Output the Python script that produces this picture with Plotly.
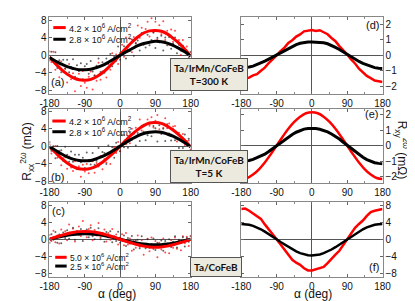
import plotly.graph_objects as go

# ---------------- data ----------------
alpha_dots = list(range(-180, 181, 5))
alpha_fit = list(range(-180, 181, 15))
alpha_r = list(range(-180, 181, 10))

# (a) Ta/IrMn/CoFeB, T=300 K, Rxx 2w (mOhm)
a_red_dots = [0.9, -1.6, 0.8, -3.3, -1.8, -5.0, -1.4, -3.7, -3.0, -6.2, -2.0, -5.5, -4.1, -8.2, -5.3, -4.2,
              -7.0, -3.6, -6.3, -7.4, -4.9, -3.7, -7.8, -4.6, -5.8, -1.7, -5.6, -3.7, -2.1, -5.1, -2.0, -3.3,
              0.5, -1.6, 0.2, -2.0, 0.6, 2.4, -0.3, 4.1, 1.3, 3.8, 0.7, 4.2, 2.7, 6.8, 4.0, 6.3, 2.5, 6.0, 7.7,
              4.3, 8.5, 5.2, 7.7, 3.7, 6.9, 4.8, 7.8, 3.5, 5.6, 2.4, 5.9, 3.1, 5.6, 1.8, 3.5, 0.1, 3.5, 0.9,
              2.0, -1.4, 0.7]
a_blk_dots = [-1.2, 0.8, -1.2, 0.7, -2.9, -1.1, -3.9, -1.0, -3.1, -1.0, -3.9, -2.7, -0.9, -4.9, -2.3, -3.6,
              -1.8, -5.5, -2.5, -2.0, -4.2, -1.3, -3.7, -4.6, -2.4, -0.7, -3.8, -1.6, -4.0, -0.7, -1.8, 0.3,
              -2.5, -0.3, -1.3, 2.0, -1.0, 0.7, 2.1, -0.7, 2.2, 1.0, 3.6, -0.1, 2.8, 3.4, 1.1, 5.1, 2.5, 1.8,
              4.7, 2.3, 3.5, 5.2, 1.7, 4.0, 3.0, 4.5, 1.1, 4.1, 2.3, 4.2, 1.5, 2.7, 4.1, 0.5, 2.4, 1.1, 2.2,
              -1.1, 1.0, -0.6, 0.8]
a_red_fit = [-0.4, -1.9, -3.2, -4.3, -5.1, -5.6, -5.7, -5.5, -4.9, -4.0, -2.8, -1.4, 0.1, 1.6, 3.0, 4.2,
             5.1, 5.6, 5.7, 5.5, 4.9, 3.9, 2.8, 1.4, -0.2]
a_blk_fit = [-0.5, -1.3, -2.0, -2.6, -3.0, -3.3, -3.3, -3.2, -2.8, -2.3, -1.6, -0.8, 0.0, 0.8, 1.5, 2.2,
             2.7, 3.0, 3.2, 3.1, 2.8, 2.3, 1.6, 0.8, -0.2]

# (b) Ta/IrMn/CoFeB, T=5 K
b_red_dots = [0.5, -1.6, -0.5, 0.1, -2.6, -1.0, -4.3, -2.7, -2.5, -5.1, -2.3, -4.8, -5.6, -3.4, -5.2, -4.5,
              -6.9, -4.2, -5.7, -4.0, -6.1, -4.9, -3.4, -6.0, -3.8, -4.6, -2.2, -5.2, -2.9, -3.7, -1.7, -4.0,
              -1.4, -0.2, -1.5, 1.0, -1.1, 0.6, 2.6, 0.5, 2.4, 0.7, 4.0, 2.8, 4.2, 2.6, 6.1, 3.6, 4.9, 3.2,
              6.1, 4.7, 6.6, 4.3, 5.8, 7.1, 3.9, 5.3, 4.2, 6.4, 4.1, 5.2, 2.7, 4.5, 4.6, 1.1, 3.1, 1.6, 2.8,
              0.3, 1.2, 1.3, -0.7]
b_blk_dots = [1.0, -1.0, 0.0, -2.7, 0.1, -1.6, -0.9, -3.3, -0.1, -1.9, -3.5, -1.2, -3.5, -1.9, -5.1, -1.9,
              -3.6, -2.6, -4.9, -1.4, -3.1, -4.1, -1.5, -4.2, -3.3, -0.4, -4.0, -1.3, -1.5, -4.0, 0.2, -1.9,
              -0.2, -2.6, 0.8, 0.0, -1.1, 2.5, -0.2, 1.4, -0.3, 3.1, 1.5, 3.1, 0.2, 3.0, 1.2, 4.7, 3.3, 1.4,
              2.5, 5.1, 2.3, 4.6, 4.1, 1.1, 4.8, 2.8, 4.0, 1.2, 5.0, 2.9, 1.3, 3.9, 1.4, 3.0, -0.4, 2.0,
              -0.4, 2.7, 0.3, 1.7, -0.9]
b_red_fit = [-0.1, -1.4, -2.7, -3.8, -4.6, -5.1, -5.2, -5.0, -4.5, -3.6, -2.5, -1.3, 0.0, 1.4, 2.7, 3.8,
             4.7, 5.3, 5.4, 5.2, 4.6, 3.7, 2.6, 1.3, -0.1]
b_blk_fit = [-0.1, -0.9, -1.7, -2.4, -2.9, -3.2, -3.3, -3.2, -2.8, -2.3, -1.6, -0.8, 0.0, 0.9, 1.7, 2.4,
             2.9, 3.2, 3.3, 3.2, 2.8, 2.3, 1.6, 0.8, -0.1]

# (c) Ta/CoFeB
c_red_dots = [1.0, -0.4, 2.0, -0.7, 0.9, -1.0, 2.3, 0.9, 1.9, -0.2, 3.5, 1.0, 2.5, -0.5, 1.9, 3.0, 0.8,
              4.3, 1.5, 0.5, 2.4, 3.3, -0.2, 2.2, 0.9, 3.8, 0.4, 1.5, 2.3, -0.5, 1.5, -0.1, 2.4, 0.3, 1.1,
              -1.2, 0.4, 1.2, -1.4, 1.5, -1.2, 0.2, -2.7, -0.4, -2.0, 0.9, -1.7, -0.2, -3.6, -1.1, 0.1,
              -2.8, 0.4, -2.3, -0.4, -4.2, -0.8, -2.4, 0.2, -3.1, -1.1, -3.3, -0.2, -2.0, 0.4, -2.2, -0.3,
              -2.6, 0.7, -0.9, 0.6, -1.6, 0.7]
c_blk_dots = [-0.8, 1.2, -0.1, 1.7, -0.8, 1.1, -0.9, 1.6, 0.3, 2.1, 0.1, 1.3, 2.7, -0.1, 1.9, 1.0, 2.4,
              -0.4, 1.9, 2.3, 0.5, 2.7, 0.7, 0.0, 1.4, 2.6, 0.0, 1.4, -0.6, 1.7, 0.5, 1.9, -0.7, 0.7, -0.4,
              1.8, -0.8, 0.1, 0.9, -1.6, 0.3, -1.0, 0.8, -2.4, -0.3, -0.1, -2.1, 0.7, -1.4, -2.1, 0.0, -2.0,
              -1.1, 0.2, -2.5, -0.8, -1.5, -0.3, -2.7, -0.4, -1.6, 0.0, -1.8, -0.6, 0.7, -1.9, -0.1, -0.8,
              0.5, -1.7, 0.3, -0.6, 0.8]
c_red_fit = [0.0, 0.5, 0.9, 1.3, 1.6, 1.8, 1.85, 1.8, 1.6, 1.3, 0.9, 0.5, 0.0, -0.5, -0.9, -1.3, -1.6,
             -1.8, -1.85, -1.8, -1.6, -1.3, -0.9, -0.5, 0.0]
c_blk_fit = [0.0, 0.34, 0.65, 0.92, 1.13, 1.26, 1.3, 1.26, 1.13, 0.92, 0.65, 0.34, 0.0, -0.34, -0.65,
             -0.92, -1.13, -1.26, -1.3, -1.26, -1.13, -0.92, -0.65, -0.34, 0.0]

# (d) Rxy 2w, T=300 K
d_red = [-1.55, -1.5, -1.45, -1.3, -1.22, -1.0, -0.8, -0.5, -0.28, 0.0, 0.27, 0.5, 0.8, 0.98, 1.22, 1.36,
         1.56, 1.6, 1.65, 1.58, 1.63, 1.5, 1.37, 1.13, 0.92, 0.6, 0.35, 0.05, -0.27, -0.53, -0.87, -1.08,
         -1.34, -1.48, -1.64, -1.68, -1.73]
d_blk = [-0.82, -0.8, -0.76, -0.7, -0.61, -0.5, -0.38, -0.25, -0.11, 0.02, 0.16, 0.3, 0.45, 0.58, 0.69,
         0.78, 0.83, 0.86, 0.87, 0.86, 0.87, 0.82, 0.75, 0.65, 0.52, 0.38, 0.22, 0.05, -0.1, -0.25, -0.4,
         -0.52, -0.63, -0.72, -0.8, -0.84, -0.86]

# (e) Rxy 2w, T=5 K
e_red = [-2.15, -2.08, -1.86, -1.52, -1.08, -0.56, 0.0, 0.56, 1.08, 1.52, 1.86, 2.08, 2.15, 2.08, 1.86,
         1.52, 1.08, 0.56, 0.0, -0.56, -1.08, -1.52, -1.86, -2.08, -2.15]
e_blk = [-1.0, -0.98, -0.95, -0.88, -0.78, -0.68, -0.55, -0.38, -0.2, 0.0, 0.2, 0.38, 0.55, 0.72, 0.86,
         0.98, 1.06, 1.1, 1.12, 1.1, 1.05, 0.98, 0.88, 0.75, 0.6, 0.42, 0.22, 0.02, -0.2, -0.4, -0.58,
         -0.75, -0.9, -1.02, -1.1, -1.14, -1.16]

# (f) Ta/CoFeB
f_red = [7.1, 7.2, 6.7, 6.0, 5.5, 4.8, 3.5, 2.2, 1.2, 0.0, -1.2, -2.3, -3.6, -4.8, -5.5, -6.0, -6.8, -7.3,
         -7.3, -7.0, -6.8, -6.5, -5.6, -4.5, -3.6, -2.7, -1.3, 0.0, 1.3, 2.7, 3.6, 4.4, 5.5, 6.4, 6.7, 6.9,
         7.1]
f_blk = [3.6, 3.55, 3.4, 3.15, 2.8, 2.35, 1.8, 1.25, 0.65, 0.0, -0.65, -1.25, -1.85, -2.4, -2.85, -3.25,
         -3.55, -3.75, -3.8, -3.75, -3.55, -3.25, -2.85, -2.4, -1.85, -1.25, -0.65, 0.0, 0.65, 1.25, 1.8,
         2.35, 2.8, 3.15, 3.4, 3.55, 3.6]

x_tickvals = [-180, -90, 0, 90, 180]
x_ticktext = ["-180", "-90", "0", "90", "180"]

legend_ab = ["4.2 × 10<sup>6</sup> A/cm<sup>2</sup>", "2.8 × 10<sup>6</sup> A/cm<sup>2</sup>"]
legend_c = ["5.0 × 10<sup>6</sup> A/cm<sup>2</sup>", "2.5 × 10<sup>6</sup> A/cm<sup>2</sup>"]

RED = "#ff0000"
BLK = "#000000"
FONT = "Liberation Sans, Arial, sans-serif"

# ---------------- figure ----------------
W, H = 415, 301
def px_x(p): return p / W
def px_y(p): return 1 - p / H

fig = go.Figure()

def dots(x, y, color, ax):
    fig.add_trace(go.Scatter(x=x, y=y, mode="markers", xaxis="x" + ax, yaxis="y" + ax,
                             marker=dict(size=2, color=color, opacity=0.7), showlegend=False,
                             hoverinfo="skip"))

def line(x, y, color, ax, smooth=True, width=3):
    fig.add_trace(go.Scatter(x=x, y=y, mode="lines", xaxis="x" + ax, yaxis="y" + ax,
                             line=dict(color=color, width=width, shape="spline" if smooth else "linear"),
                             showlegend=False))

# panel a
dots(alpha_dots, a_red_dots, RED, "")
dots(alpha_dots, a_blk_dots, "#222222", "")
line(alpha_fit, a_red_fit, RED, "")
line(alpha_fit, a_blk_fit, BLK, "")
# panel b
dots(alpha_dots, b_red_dots, RED, "2")
dots(alpha_dots, b_blk_dots, "#222222", "2")
line(alpha_fit, b_red_fit, RED, "2")
line(alpha_fit, b_blk_fit, BLK, "2")
# panel c
dots(alpha_dots, c_red_dots, RED, "3")
dots(alpha_dots, c_blk_dots, "#222222", "3")
line(alpha_fit, c_blk_fit, BLK, "3")
line(alpha_fit, c_red_fit, RED, "3")
# panel d
line(alpha_r, d_red, RED, "4", smooth=False, width=2.5)
line(alpha_r, d_blk, BLK, "4", smooth=False, width=3)
# panel e
line(alpha_fit, e_red, RED, "5", width=2.5)
line(alpha_r, e_blk, BLK, "5", smooth=False, width=3)
# panel f
line(alpha_r, f_red, RED, "6", smooth=False, width=2.5)
line(alpha_r, f_blk, BLK, "6", smooth=False, width=2.5)

# layout axes
left_x = [px_x(33), px_x(181)]
right_x = [px_x(234), px_x(382)]
rows = [(5, 84), (100, 176), (195, 272)]
yranges = {"": [-8.8, 8.8], "2": [-8.4, 8.4], "3": [-8.8, 8.8],
           "4": [-2.5, 2.5], "5": [-2.42, 2.33], "6": [-8.8, 8.8]}
yticks = {"": [-8, -4, 0, 4, 8], "2": [-8, -4, 0, 4, 8], "3": [-8, -4, 0, 4, 8],
          "4": [-2, -1, 0, 1, 2], "5": [-2, -1, 0, 1, 2], "6": [-8, -4, 0, 4, 8]}
panels = [("", left_x, rows[0], "left"), ("2", left_x, rows[1], "left"), ("3", left_x, rows[2], "left"),
          ("4", right_x, rows[0], "right"), ("5", right_x, rows[1], "right"), ("6", right_x, rows[2], "right")]

tickfont = dict(family=FONT, size=10, color="#111111")
for ax, xd, (top, bot), side in panels:
    fig.layout["xaxis" + ax] = dict(
        domain=xd, anchor="y" + ax, range=[-180, 180], tickvals=x_tickvals, ticktext=x_ticktext,
        ticks="inside", ticklen=3, tickcolor="#666666", showline=True, linecolor="#888888", linewidth=1,
        mirror="ticks", showgrid=False, zeroline=True, zerolinecolor="#555555", zerolinewidth=1,
        minor=dict(dtick=45, tick0=-180, ticks="inside", ticklen=2, tickcolor="#888888", showgrid=False),
        tickfont=tickfont, fixedrange=True)
    fig.layout["yaxis" + ax] = dict(
        domain=[px_y(bot), px_y(top)], anchor="x" + ax, range=yranges[ax], tickvals=yticks[ax],
        side=side, ticks="inside", ticklen=3, tickcolor="#666666", showline=True, linecolor="#888888",
        linewidth=1, mirror="ticks", showgrid=False, zeroline=True, zerolinecolor="#555555",
        zerolinewidth=1, tickfont=tickfont, fixedrange=True)

annotations = []
shapes = []

# legends
def legend(texts, y1, y2, x0, x1, size):
    for txt, y, col in [(texts[0], y1, RED), (texts[1], y2, BLK)]:
        shapes.append(dict(type="line", xref="paper", yref="paper", x0=px_x(x0), x1=px_x(x1),
                           y0=px_y(y), y1=px_y(y), line=dict(color=col, width=3)))
        annotations.append(dict(text=txt, x=px_x(x1 + 1), y=px_y(y), xref="paper", yref="paper",
                                xanchor="left", yanchor="middle", showarrow=False,
                                font=dict(family=FONT, size=size, color="#111111")))

legend(legend_ab, 16, 28, 37, 50, 9)
legend(legend_ab, 112, 123, 36, 50, 9)
legend(legend_c, 252, 261, 39, 51, 8.5)

# panel labels
for txt, x, y in [("(a)", 41, 72), ("(b)", 41, 170), ("(c)", 42, 204),
                  ("(d)", 371, 13), ("(e)", 370, 105), ("(f)", 373, 262)]:
    annotations.append(dict(text=txt, x=px_x(x), y=px_y(y), xref="paper", yref="paper",
                            xanchor="center", yanchor="middle", showarrow=False,
                            font=dict(family=FONT, size=11, color="#111111")))

# sample boxes
for txt, x, y in [("Ta/IrMn/CoFeB<br>T=300 K", 200, 64.5), ("Ta/IrMn/CoFeB<br>T=5 K", 200, 159),
                  ("Ta/CoFeB", 207, 261.5)]:
    annotations.append(dict(text="<b>" + txt + "</b>", x=px_x(x), y=px_y(y), xref="paper", yref="paper",
                            xanchor="center", yanchor="middle", showarrow=False, align="center",
                            bgcolor="#ECE9DE", bordercolor="#555555", borderwidth=1, borderpad=3,
                            font=dict(family="Lato, Open Sans, sans-serif", size=10, color="#111111")))

# axis titles
annotations.append(dict(text="α (deg)", x=px_x(104), y=px_y(290), xref="paper", yref="paper",
                        showarrow=False, xanchor="center", yanchor="middle",
                        font=dict(family=FONT, size=12, color="#111111")))
annotations.append(dict(text="α (deg)", x=px_x(309), y=px_y(290), xref="paper", yref="paper",
                        showarrow=False, xanchor="center", yanchor="middle",
                        font=dict(family=FONT, size=12, color="#111111")))
annotations.append(dict(text="R<sub>xx</sub><sup>2ω</sup> (mΩ)", x=px_x(10), y=px_y(143), xref="paper",
                        yref="paper", showarrow=False, textangle=-90, xanchor="center", yanchor="middle",
                        font=dict(family=FONT, size=12, color="#111111")))
annotations.append(dict(text="R<sub>xy</sub><sup>2ω</sup> (mΩ)", x=px_x(402), y=px_y(142), xref="paper",
                        yref="paper", showarrow=False, textangle=90, xanchor="center", yanchor="middle",
                        font=dict(family=FONT, size=12, color="#111111")))

fig.update_layout(width=W, height=H, margin=dict(l=0, r=0, t=0, b=0), autosize=False,
                  plot_bgcolor="white", paper_bgcolor="white", showlegend=False,
                  annotations=annotations, shapes=shapes)

fig.write_html("out.html", config={"displayModeBar": False})
